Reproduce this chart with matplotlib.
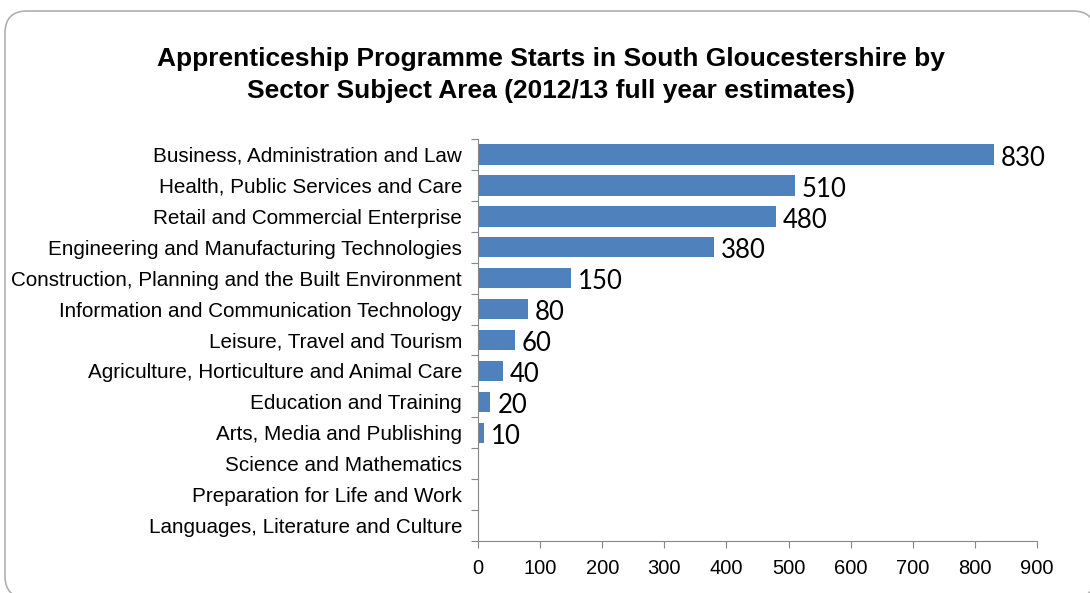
import matplotlib
matplotlib.use('Agg')
import matplotlib.pyplot as plt
from matplotlib.patches import FancyBboxPatch

sectors = [
    'Business, Administration and Law',
    'Health, Public Services and Care',
    'Retail and Commercial Enterprise',
    'Engineering and Manufacturing Technologies',
    'Construction, Planning and the Built Environment',
    'Information and Communication Technology',
    'Leisure, Travel and Tourism',
    'Agriculture, Horticulture and Animal Care',
    'Education and Training',
    'Arts, Media and Publishing',
    'Science and Mathematics',
    'Preparation for Life and Work',
    'Languages, Literature and Culture',
]
starts = [830, 510, 480, 380, 150, 80, 60, 40, 20, 10, 0, 0, 0]
x_ticks = [0, 100, 200, 300, 400, 500, 600, 700, 800, 900]

title = ('Apprenticeship Programme Starts in South Gloucestershire by\n'
         'Sector Subject Area (2012/13 full year estimates)')

fig = plt.figure(figsize=(10.9, 5.93), dpi=100)

# rounded chart-area border (inches), running just past the right/bottom edges
shadow = FancyBboxPatch((0.07, -0.07), 10.9, 5.86, transform=fig.dpi_scale_trans,
                        boxstyle='round,pad=0,rounding_size=0.22',
                        facecolor='#404040', edgecolor='none', zorder=-11)
border = FancyBboxPatch((0.05, -0.05), 10.9, 5.87, transform=fig.dpi_scale_trans,
                        boxstyle='round,pad=0,rounding_size=0.22',
                        facecolor='white', edgecolor='#b0b0b0', linewidth=1.2, zorder=-10)
fig.patches.extend([shadow, border])

ax = fig.add_axes([478 / 1090, 1 - 541 / 593, (1037 - 478) / 1090, (541 - 139) / 593])
ax.set_facecolor('none')

pos = list(range(len(sectors)))
ax.barh(pos, starts, height=0.66, color='#4F81BD')
for p, v in zip(pos, starts):
    if v > 0:
        ax.text(v + 11, p + 0.12, str(v), va='center', ha='left',
                fontsize=18.5, family='Lato', color='black')

ax.set_xlim(0, 900)
ax.set_ylim(len(sectors) - 0.5, -0.5)
ax.set_xticks(x_ticks)
ax.set_xticklabels([str(t) for t in x_ticks], fontsize=14.5, family='Liberation Sans')
ax.set_yticks([i - 0.5 for i in range(len(sectors) + 1)])
ax.set_yticklabels([])
ax.set_yticks(pos, minor=True)
ax.set_yticklabels(sectors, minor=True, fontsize=14.9, family='Liberation Sans')
ax.tick_params(axis='y', which='minor', length=0, pad=11.5)
ax.tick_params(axis='y', which='major', length=5, color='#868686', direction='out')
ax.tick_params(axis='x', length=5, color='#868686', direction='out', pad=8)

for s in ['top', 'right']:
    ax.spines[s].set_visible(False)
for s in ['left', 'bottom']:
    ax.spines[s].set_color('#868686')

fig.text(551 / 1090, 1 - 75 / 593, title, ha='center', va='center',
         fontsize=19, fontweight='bold', family='Liberation Sans', linespacing=1.37)

fig.savefig('out.png', dpi=100)
